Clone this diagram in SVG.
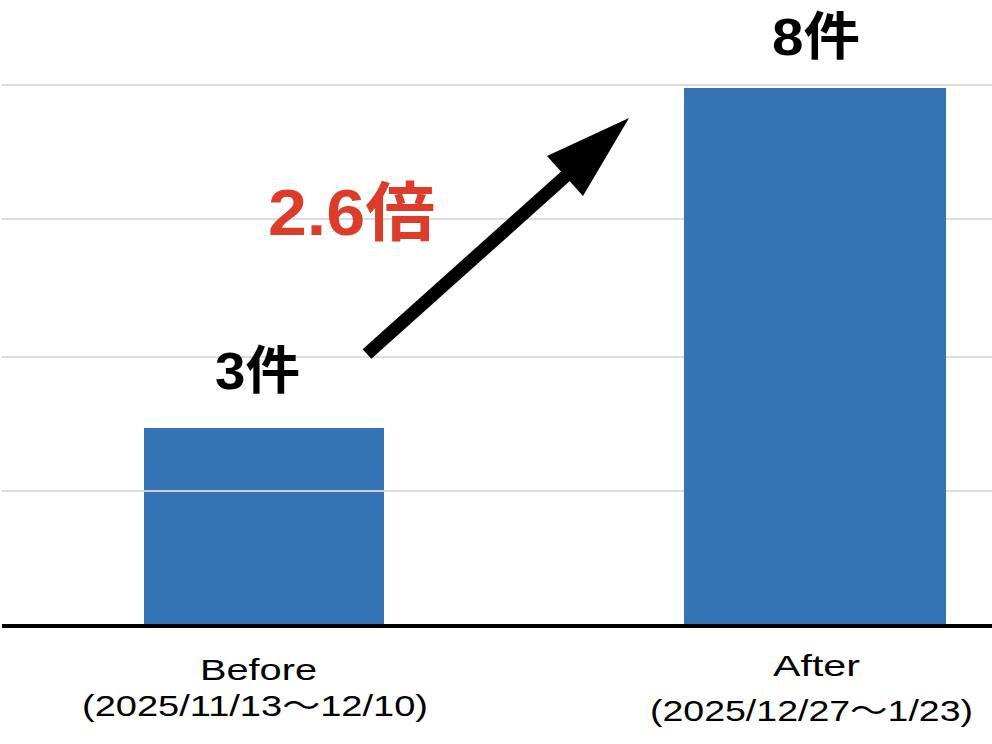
<svg xmlns="http://www.w3.org/2000/svg" width="992" height="744" viewBox="0 0 992 744">
<style>
.grid{stroke:#dcdcdc;stroke-width:2}
.bar{fill:#3474b4}
.val{font-family:"Liberation Sans","Noto Sans CJK JP",sans-serif;font-weight:700;fill:#000}
.lbl{font-family:"Liberation Sans","Noto Sans CJK JP",sans-serif;font-weight:400;fill:#000}
</style>
<rect width="992" height="744" fill="#fff"/>
<g id="gridlines">
<line class="grid" x1="2" y1="85" x2="992" y2="85"/>
<line class="grid" x1="2" y1="219" x2="992" y2="219"/>
<line class="grid" x1="2" y1="357" x2="992" y2="357"/>
<line class="grid" x1="2" y1="491" x2="992" y2="491"/>
</g>
<g id="bar-before">
<rect class="bar" x="144" y="428" width="240" height="198"/>
<line x1="144" y1="491" x2="384" y2="491" stroke="#c9ced6" stroke-width="2"/>
<text class="val" x="215" y="389" font-size="52" textLength="85" lengthAdjust="spacingAndGlyphs">3件</text>
<text class="lbl" x="200" y="680" font-size="30" textLength="117" lengthAdjust="spacingAndGlyphs">Before</text>
<text class="lbl" x="82" y="716" font-size="30" textLength="346" lengthAdjust="spacingAndGlyphs">(2025/11/13〜12/10)</text>
</g>
<g id="bar-after">
<rect class="bar" x="684" y="88" width="262" height="538"/>
<text class="val" x="772" y="55" font-size="52" textLength="88" lengthAdjust="spacingAndGlyphs">8件</text>
<text class="lbl" x="773" y="676" font-size="30" textLength="87" lengthAdjust="spacingAndGlyphs">After</text>
<text class="lbl" x="650" y="721" font-size="30" textLength="323" lengthAdjust="spacingAndGlyphs">(2025/12/27〜1/23)</text>
</g>
<rect id="axis" x="2" y="624" width="990" height="4" fill="#000"/>
<g id="connectors">
<line x1="367" y1="354" x2="568" y2="174" stroke="#000" stroke-width="13"/>
<polygon points="629,118 547,156 583,196" fill="#000"/>
</g>
<g id="ratio">
<text x="268" y="235" font-size="64" font-family="Liberation Sans,Noto Sans CJK JP,sans-serif" font-weight="700" fill="#dc3d2a" textLength="167" lengthAdjust="spacingAndGlyphs">2.6倍</text>
</g>
</svg>
